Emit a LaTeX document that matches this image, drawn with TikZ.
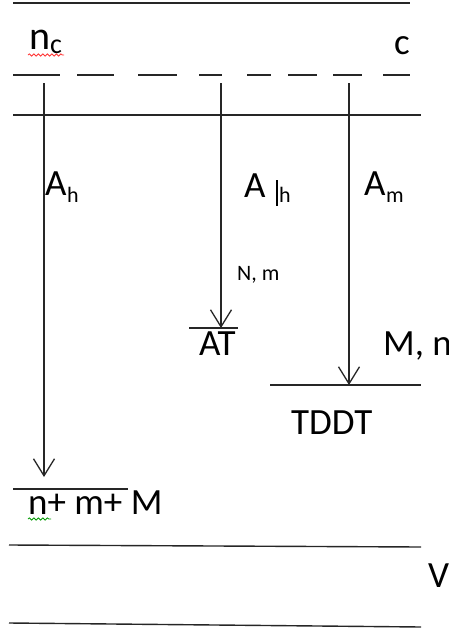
\documentclass[tikz,border=0pt]{standalone}
\usepackage{fontspec}
\setmainfont{Carlito}
\usetikzlibrary{arrows.meta,decorations.pathmorphing}
\begin{document}
\begin{tikzpicture}[x=1pt,y=-1pt,
  lvl/.style={draw=black!85, line width=1.4pt},
  arr/.style={draw=black!85, line width=1.3pt, -{Straight Barb[length=17pt,width=21pt]}},
  lbl/.style={inner sep=0pt, anchor=base west, font=\fontsize{37}{42}\selectfont},
  sml/.style={inner sep=0pt, anchor=base west, font=\fontsize{22}{26}\selectfont},
  sub/.style={inner sep=0pt, anchor=base west, font=\fontsize{22}{25}\selectfont},
  squig/.style={line width=0.8pt, decorate, decoration={snake, amplitude=1.1pt, segment length=4.5pt}}]
\useasboundingbox (0,0) rectangle (449,629);
\clip (0,0) rectangle (449,629);
% levels
\draw[lvl] (13,3) -- (410,3);
\foreach \a/\b in {13/60,77/114,138/177,199/222,247/271,288/317,333/362,383/410}
  \draw[lvl] (\a,75) -- (\b,75);
\draw[lvl] (13,115) -- (421,115);
\draw[lvl] (189,328) -- (238,328);
\draw[lvl] (270,385) -- (421,385);
\draw[lvl] (13,489) -- (128,489);
\draw[lvl] (9,545) -- (421,547);
\draw[lvl] (9,623) -- (421,627);
% arrow endpoints
\coordinate (s1) at (44,83);
\coordinate (s2) at (221,83);
\coordinate (s3) at (349,83);
\coordinate (e1) at (44,477);
\coordinate (e2) at (221,328);
\coordinate (e3) at (349,385);
\draw[arr] (s1) -- (e1);
\draw[arr] (s2) -- (e2);
\draw[arr] (s3) -- (e3);
% labels
\node[lbl, font=\fontsize{40}{44}\selectfont] (nc) at (29,49) {n};
\node[sub, font=\fontsize{28}{32}\selectfont] (ncs) at (50,53) {c};
\draw[red!80, squig] (28,55) -- (64,55);
\node[lbl] (c) at (394,54) {c};
\node[lbl] (ah) at (45,195) {A};
\node[sub] (ahs) at (67,202) {h};
\node[lbl] (ah2) at (244,197) {A};
\draw[line width=2pt] (277,180) -- (277,206);
\node[sub] (ah2s) at (279,202) {h};
\node[lbl] (am) at (364,195) {A};
\node[sub] (ams) at (386,202) {m};
\node[sml] (nm) at (237,280) {N, m};
\node[lbl] (at) at (199,355) {AT};
\node[lbl] (mn) at (383,355) {M, n};
\node[lbl] (tddt) at (291,434) {TDDT};
\node[lbl] (nmm) at (28,514) {n+ m+ M};
\draw[green!60!black, squig] (28,519) -- (51,519);
\node[lbl] (v) at (428,587) {V};
\end{tikzpicture}
\end{document}
